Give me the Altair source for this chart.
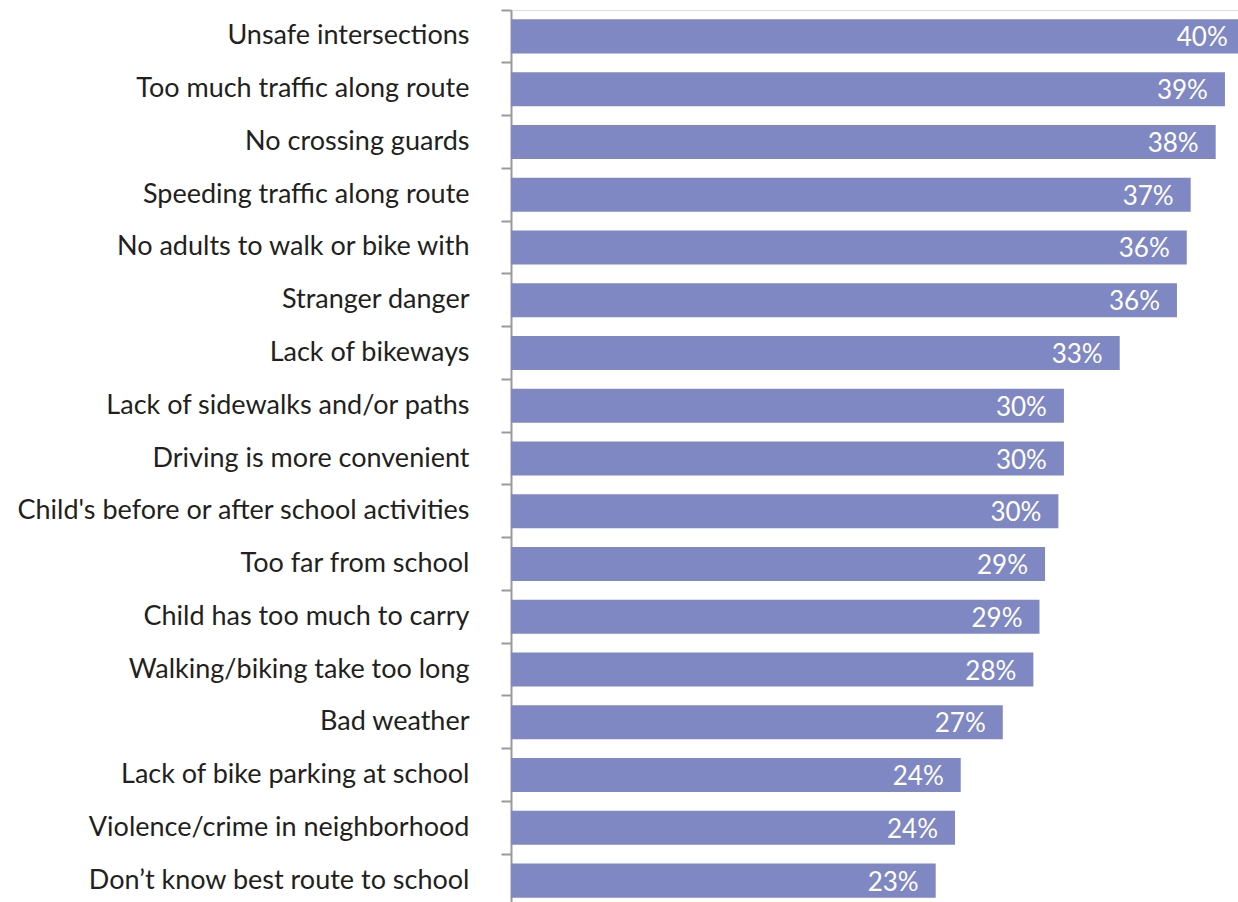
import altair as alt
import pandas as pd

categories = [
    "Unsafe intersections",
    "Too much traffic along route",
    "No crossing guards",
    "Speeding traffic along route",
    "No adults to walk or bike with",
    "Stranger danger",
    "Lack of bikeways",
    "Lack of sidewalks and/or paths",
    "Driving is more convenient",
    "Child's before or after school activities",
    "Too far from school",
    "Child has too much to carry",
    "Walking/biking take too long",
    "Bad weather",
    "Lack of bike parking at school",
    "Violence/crime in neighborhood",
    "Don\u2019t know best route to school",
]
values = [39.6, 38.53, 38.03, 36.68, 36.47, 35.94, 32.85, 29.84, 29.84, 29.54,
          28.82, 28.52, 28.19, 26.54, 24.27, 23.96, 22.92]
labels = ["40%", "39%", "38%", "37%", "36%", "36%", "33%", "30%", "30%", "30%",
          "29%", "29%", "28%", "27%", "24%", "24%", "23%"]

df = pd.DataFrame({"cat": categories, "val": values, "lab": labels})

FONT = "Lato"
XMAX = 727 / 18.53

y_scale = alt.Scale(range=[0, 897], paddingInner=0, paddingOuter=0)

y_enc = alt.Y(
    "cat:N",
    sort=categories,
    title=None,
    scale=y_scale,
    axis=alt.Axis(
        bandPosition=0,
        grid=False,
        domainColor="#9a9a9a",
        domainWidth=2,
        tickColor="#9a9a9a",
        tickWidth=2,
        tickSize=10,
        labelPadding=32,
        labelFont=FONT,
        labelFontSize=27,
        labelColor="#231f20",
        labelLimit=520,
    ),
)

x_enc = alt.X("val:Q", axis=None, scale=alt.Scale(domain=[0, XMAX], nice=False))

bars = alt.Chart(df).mark_bar(
    color="#7f88c2", height=alt.RelativeBandSize(0.645)
).encode(x=x_enc, y=y_enc)

text = alt.Chart(df).mark_text(
    align="right", baseline="middle", dx=-17, dy=2, color="white", font=FONT, fontSize=26
).encode(x=x_enc, y=alt.Y("cat:N", sort=categories), text="lab:N")

chart = (
    alt.layer(bars, text)
    .properties(
        width=727,
        height=892,
        padding={"left": 511, "top": 10, "right": 0, "bottom": 0},
        autosize=alt.AutoSizeParams(type="none"),
    )
    .configure_view(stroke="transparent", strokeWidth=0)
    .configure_axis(grid=False)
    .configure(background="white")
)

chart.save("out.html", embed_options={"renderer": "svg", "actions": False})
